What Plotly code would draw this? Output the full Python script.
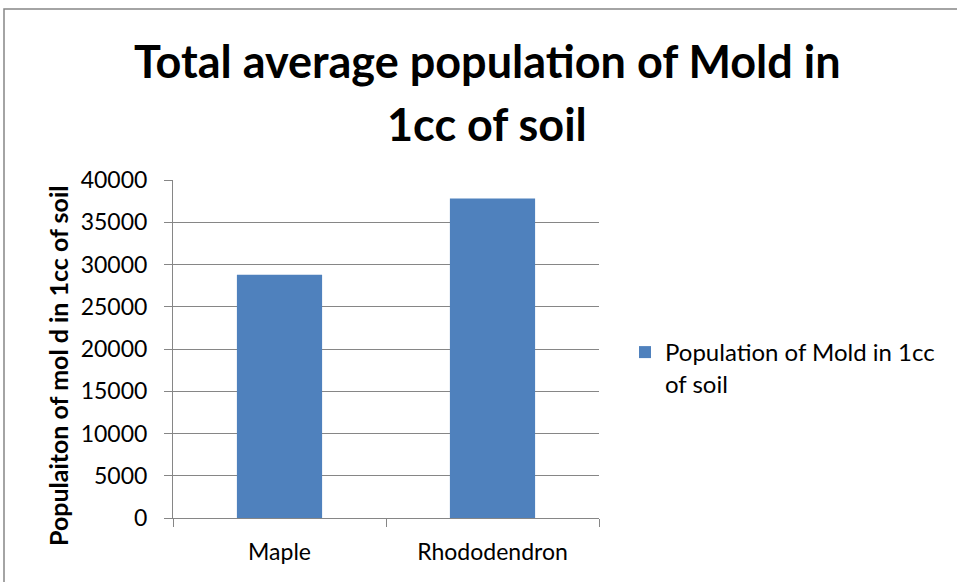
import plotly.graph_objects as go

# Chart data
categories = ["Maple", "Rhododendron"]
mold_population = [28800, 37800]
series_name = "Population of Mold in 1cc<br>of soil"
y_ticks = [0, 5000, 10000, 15000, 20000, 25000, 30000, 35000, 40000]
title_lines = ["Total average population of Mold in", "1cc of soil"]
y_title = "Populaiton of mol d in 1cc of soil"

W, H = 957, 582
L, R, T, B = 173, 358, 180, 64
pw, ph = W - L - R, H - T - B

FONT = "Lato"
GRAY = "#868686"
BAR = "#4F81BD"


def px_x(x):
    return (x - L) / pw


def px_y(y):
    return (H - B - y) / ph


fig = go.Figure()
fig.add_trace(go.Bar(
    x=categories,
    y=mold_population,
    name=series_name,
    marker=dict(color=BAR, line=dict(width=0)),
    width=0.4,
    showlegend=True,
))

annotations = []
# two-line chart title
for text, yc in zip(title_lines, [61, 124]):
    annotations.append(dict(
        text=f"<b>{text}</b>",
        x=px_x(487), y=px_y(yc),
        xref="paper", yref="paper",
        xanchor="center", yanchor="middle",
        showarrow=False,
        font=dict(family=FONT, size=45, color="black"),
    ))
# rotated value-axis title
annotations.append(dict(
    text=f"<b>{y_title}</b>",
    x=px_x(58), y=px_y(366),
    xref="paper", yref="paper",
    xanchor="center", yanchor="middle",
    textangle=-90,
    showarrow=False,
    font=dict(family=FONT, size=25, color="black"),
))

fig.update_layout(
    width=W,
    height=H,
    margin=dict(l=L, r=R, t=T, b=B, pad=0),
    paper_bgcolor="white",
    plot_bgcolor="white",
    font=dict(family=FONT, color="black", size=23),
    xaxis=dict(
        type="category",
        showline=True,
        linecolor=GRAY,
        linewidth=1,
        ticks="outside",
        tickson="boundaries",
        ticklen=8,
        tickcolor=GRAY,
        showgrid=False,
        ticklabelstandoff=13,
        tickfont=dict(family=FONT, size=23, color="black"),
        fixedrange=True,
    ),
    yaxis=dict(
        range=[0, 40000],
        tickvals=y_ticks,
        ticktext=[str(v) for v in y_ticks],
        showline=True,
        linecolor=GRAY,
        linewidth=1,
        ticks="outside",
        ticklen=8,
        tickcolor=GRAY,
        showgrid=True,
        gridcolor=GRAY,
        gridwidth=1,
        zeroline=False,
        ticklabelstandoff=12,
        tickfont=dict(family=FONT, size=23, color="black"),
        fixedrange=True,
    ),
    legend=dict(
        x=px_x(625),
        y=px_y(330),
        xanchor="left",
        yanchor="top",
        valign="top",
        font=dict(family=FONT, size=24, color="black"),
        bgcolor="rgba(0,0,0,0)",
    ),
    showlegend=True,
    annotations=annotations,
    shapes=[
        dict(
            type="rect",
            xref="paper",
            yref="paper",
            x0=px_x(4),
            x1=px_x(1100),
            y0=px_y(700),
            y1=px_y(9),
            line=dict(color=GRAY, width=1.5),
            fillcolor="rgba(0,0,0,0)",
            layer="above",
        )
    ],
)

fig.write_html("out.html")
